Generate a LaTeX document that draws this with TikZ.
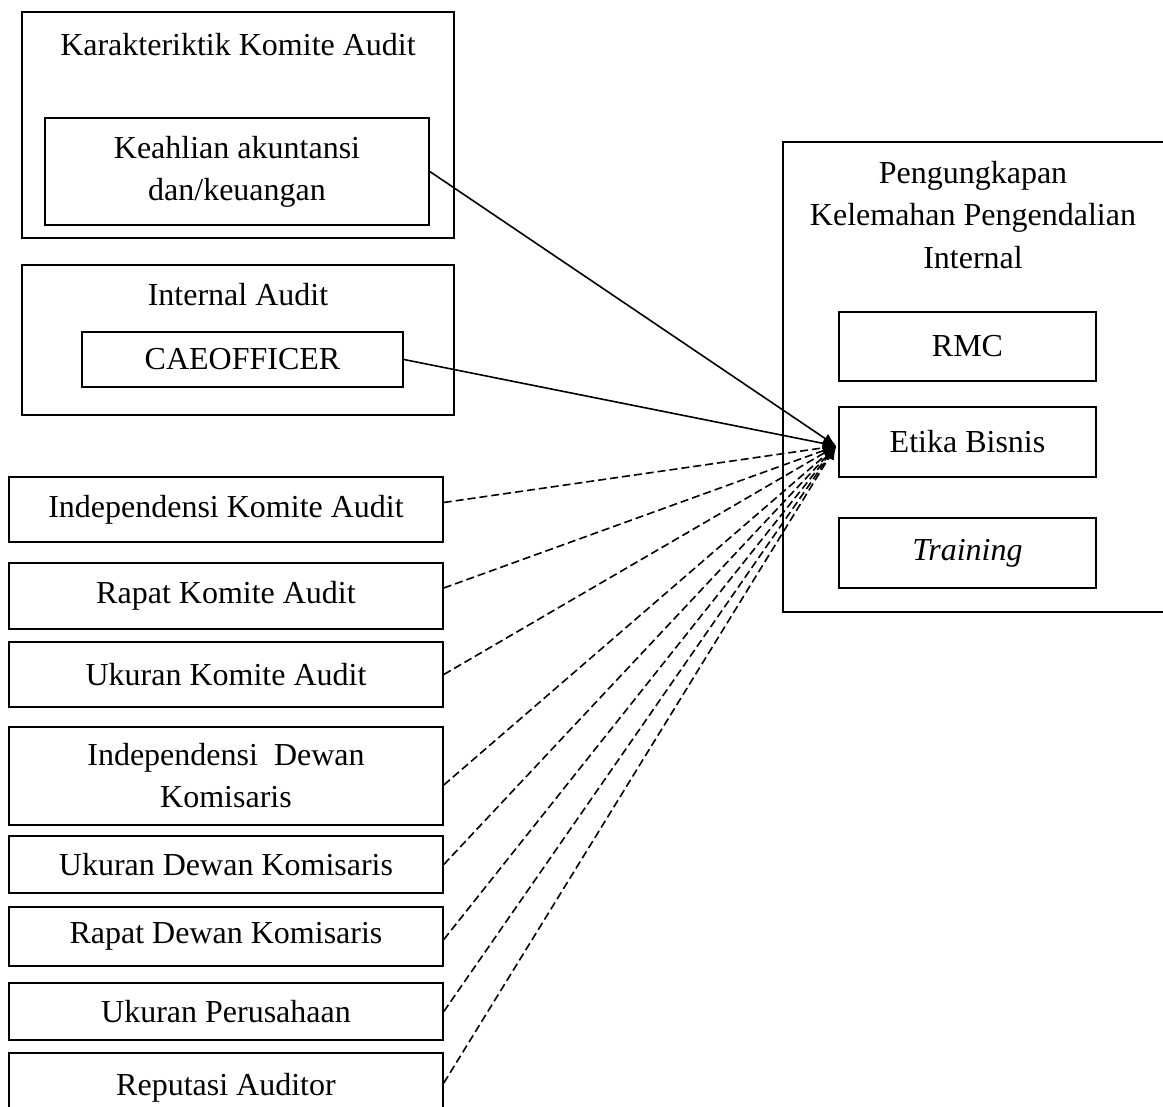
\documentclass[tikz,border=0pt]{standalone}
\usepackage{fontspec}
\setmainfont{Liberation Serif}
\usetikzlibrary{arrows.meta,calc}
\newcommand\pxl{0.375pt}
\begin{document}
\begin{tikzpicture}[x=0.375pt,y=-0.375pt,
  bx/.style={draw, line width=0.6pt, inner sep=0pt, align=center, font=\fontsize{12}{15.75}\selectfont},
  lbl/.style={inner sep=0pt, align=center, font=\fontsize{12}{15.75}\selectfont},
  solidarrow/.style={line width=0.6pt, -{Latex[length=5pt,width=4.2pt]}},
  dasharrow/.style={line width=0.6pt, dash pattern=on 3pt off 1.5pt, -{Latex[length=5pt,width=4.2pt]}}]
\useasboundingbox (0,0) rectangle (1163,1107);
% top-left group
\node[bx, minimum width=432*\pxl, minimum height=226*\pxl] (kka) at (238,125) {};
\node[lbl] (kkat) at (238,45) {Karakteriktik Komite Audit};
\node[bx, minimum width=384*\pxl, minimum height=107*\pxl] (keah) at (237,171.5) {Keahlian akuntansi\\dan/keuangan};
% internal audit group
\node[bx, minimum width=432*\pxl, minimum height=150*\pxl] (ia) at (238,340) {};
\node[lbl] (iat) at (238,295) {Internal Audit};
\node[bx, minimum width=321*\pxl, minimum height=55*\pxl] (caeo) at (242.5,359.5) {CAEOFFICER};
% right group
\node[bx, minimum width=384*\pxl, minimum height=470*\pxl] (pk) at (975,377) {};
\node[lbl, font=\fontsize{12}{15.9}\selectfont] (pkt) at (973,215) {Pengungkapan\\Kelemahan Pengendalian\\Internal};
\node[bx, minimum width=257*\pxl, minimum height=69*\pxl] (rmc) at (967.5,346.5) {RMC};
\node[bx, minimum width=257*\pxl, minimum height=70*\pxl] (etika) at (967.5,442) {Etika Bisnis};
\node[bx, minimum width=257*\pxl, minimum height=70*\pxl] (train) at (967.5,553) {\textit{Training}};
% left column
\node[bx, minimum width=434*\pxl, minimum height=65*\pxl] (ika) at (226,509.5) {Independensi Komite Audit};
\node[bx, minimum width=434*\pxl, minimum height=66*\pxl] (rka) at (226,596) {Rapat Komite Audit};
\node[bx, minimum width=434*\pxl, minimum height=65*\pxl] (uka) at (226,674.5) {Ukuran Komite Audit};
\node[bx, minimum width=434*\pxl, minimum height=98*\pxl] (idk) at (226,776) {Independensi\ \ Dewan\\Komisaris};
\node[bx, minimum width=434*\pxl, minimum height=57*\pxl] (udk) at (226,864.5) {Ukuran Dewan Komisaris};
\node[bx, minimum width=434*\pxl, minimum height=59*\pxl] (rdk) at (226,936.5) {Rapat Dewan Komisaris};
\node[bx, minimum width=434*\pxl, minimum height=57*\pxl] (up) at (226,1011.5) {Ukuran Perusahaan};
\node[bx, minimum width=434*\pxl, minimum height=80*\pxl] (ra) at (226,1093) {};
\node[lbl] (rat) at (226,1088) {Reputasi Auditor};
% hub
\coordinate (hub) at ($(etika.west)+(-2,4)$);
% connectors
\draw[solidarrow] (keah.east) -- (hub);
\draw[solidarrow] (caeo.east) -- (hub);
\draw[dasharrow] ($(ika.east)+(0,-7)$) -- (hub);
\draw[dasharrow] ($(rka.east)+(0,-8)$) -- (hub);
\draw[dasharrow] (uka.east) -- (hub);
\draw[dasharrow] ($(idk.east)+(0,9)$) -- (hub);
\draw[dasharrow] (udk.east) -- (hub);
\draw[dasharrow] ($(rdk.east)+(0,3)$) -- (hub);
\draw[dasharrow] (up.east) -- (hub);
\draw[dasharrow] ($(ra.east)+(0,-10)$) -- (hub);
\end{tikzpicture}
\end{document}
